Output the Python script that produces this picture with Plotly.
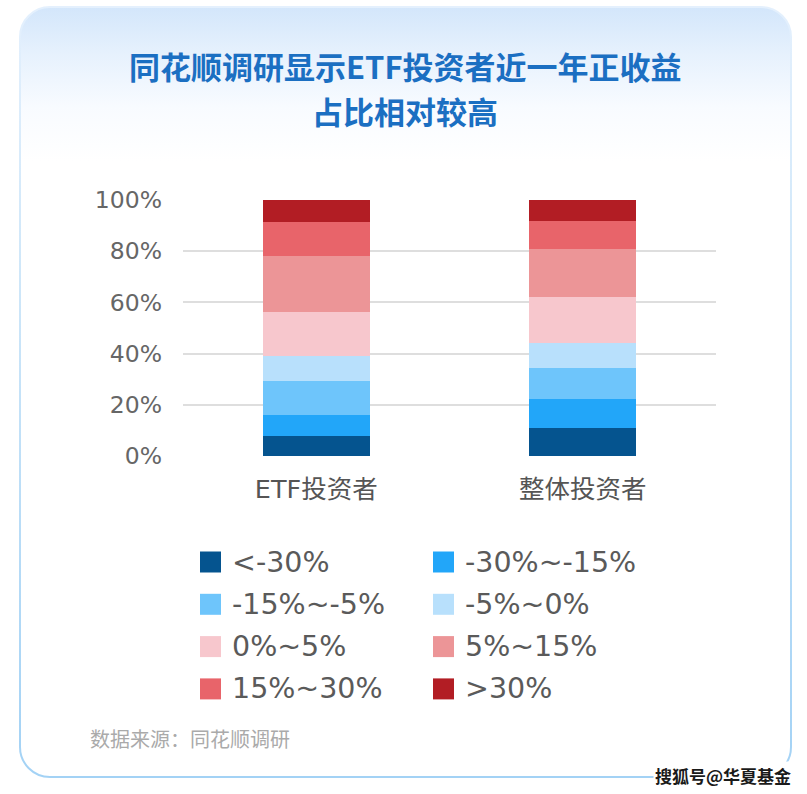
import base64
import plotly.graph_objects as go

# ---------------- data ----------------
CATEGORIES = ["ETF投资者", "整体投资者"]
SERIES = ["<-30%", "-30%~-15%", "-15%~-5%", "-5%~0%", "0%~5%", "5%~15%", "15%~30%", ">30%"]
ETF_SHARE = [8.0, 8.2, 13.1, 9.7, 17.4, 21.8, 13.0, 8.8]
ALL_SHARE = [11.0, 11.2, 12.3, 9.6, 17.9, 18.7, 10.9, 8.4]
COLORS = ["#05548F", "#22A6F9", "#6EC5FB", "#B8E0FC", "#F7C7CD", "#EC9597", "#E8646A", "#B21D24"]
Y_TICKS = [0, 20, 40, 60, 80, 100]
TITLE_LINES = ["同花顺调研显示ETF投资者近一年正收益", "占比相对较高"]
SOURCE = "数据来源：同花顺调研"
WATERMARK = "搜狐号@华夏基金"

# ---------------- geometry ----------------
W, H = 807, 794
L, R, T, B = 183, 91, 199, 337
PW, PH = W - L - R, H - T - B


def px_x(px):
    return (px - L) / PW


def px_y(py):
    return (H - B - py) / PH


CJK = "Noto Sans CJK SC"
LAT = "DejaVu Sans, Noto Sans CJK SC"

fig = go.Figure()
for name, color, a, b in zip(SERIES, COLORS, ETF_SHARE, ALL_SHARE):
    fig.add_trace(go.Bar(
        x=CATEGORIES, y=[a, b], name=name,
        marker=dict(color=color, line=dict(width=0)),
        showlegend=False,
    ))

# card background as an svg image
svg = f'''<svg xmlns="http://www.w3.org/2000/svg" width="{W}" height="{H}" viewBox="0 0 {W} {H}">
<defs>
<linearGradient id="f" x1="0" y1="7" x2="0" y2="777" gradientUnits="userSpaceOnUse">
<stop offset="0" stop-color="#d3e6fb"/>
<stop offset="0.06" stop-color="#e6f1fd"/>
<stop offset="0.13" stop-color="#f8fbff"/>
<stop offset="0.2" stop-color="#ffffff"/>
<stop offset="1" stop-color="#ffffff"/>
</linearGradient>
<linearGradient id="s" x1="0" y1="7" x2="0" y2="777" gradientUnits="userSpaceOnUse">
<stop offset="0" stop-color="#e4f0fd"/>
<stop offset="0.35" stop-color="#cfe7f9"/>
<stop offset="1" stop-color="#a3d2f5"/>
</linearGradient>
</defs>
<rect x="20" y="7" width="771" height="770" rx="30" ry="30" fill="url(#f)" stroke="url(#s)" stroke-width="2"/>
</svg>'''
src = "data:image/svg+xml;base64," + base64.b64encode(svg.encode("utf-8")).decode("ascii")
fig.add_layout_image(dict(
    source=src, xref="paper", yref="paper",
    x=px_x(0), y=px_y(0), sizex=W / PW, sizey=H / PH,
    xanchor="left", yanchor="top", sizing="stretch", layer="below",
))

shapes = []
annotations = []

# title, one annotation per line
for line, cy in zip(TITLE_LINES, [65, 110]):
    annotations.append(dict(
        text="<b>" + line + "</b>", xref="paper", yref="paper",
        x=px_x(405), y=px_y(cy), xanchor="center", yanchor="middle", showarrow=False,
        borderpad=0,
        font=dict(family=CJK, size=31, color="#1b6fc2"),
    ))

# manual legend built from the series list
for i, (name, color) in enumerate(zip(SERIES, COLORS)):
    col, row = i % 2, i // 2
    sx = 200 + col * 233
    cy = 562 + row * 42.3
    shapes.append(dict(
        type="rect", xref="paper", yref="paper",
        x0=px_x(sx), x1=px_x(sx + 21), y0=px_y(cy - 10.5), y1=px_y(cy + 10.5),
        fillcolor=color, line=dict(width=0),
    ))
    annotations.append(dict(
        text=name.replace("<", "&lt;").replace(">", "&gt;"),
        xref="paper", yref="paper", x=px_x(sx + 30), y=px_y(cy),
        xanchor="left", yanchor="middle", showarrow=False,
        font=dict(family=LAT, size=28.5, color="#5a5a5a"),
    ))

annotations.append(dict(
    text=SOURCE, xref="paper", yref="paper", x=px_x(88), y=px_y(738),
    xanchor="left", yanchor="middle", showarrow=False,
    font=dict(family=CJK, size=20, color="#aaaaaa"),
))
annotations.append(dict(
    text="<b>" + WATERMARK + "</b>", xref="paper", yref="paper", x=px_x(793), y=px_y(775),
    xanchor="right", yanchor="middle", showarrow=False, bgcolor="#ffffff",
    font=dict(family=CJK, size=17, color="#1a1a1a"),
))

fig.update_layout(
    width=W, height=H,
    margin=dict(l=L, r=R, t=T, b=B, pad=0),
    paper_bgcolor="#ffffff", plot_bgcolor="rgba(0,0,0,0)",
    barmode="stack", bargap=0.6,
    xaxis=dict(
        showgrid=False, showline=False, ticks="", zeroline=False,
        tickfont=dict(family=LAT, size=25.5, color="#555555"),
        ticklabelstandoff=14, fixedrange=True,
    ),
    yaxis=dict(
        range=[-0.3, 100.3], tickvals=Y_TICKS, ticktext=[f"{v}%" for v in Y_TICKS],
        showgrid=True, gridcolor="#dedede", gridwidth=2,
        zeroline=False, showline=False, ticks="",
        tickfont=dict(family=LAT, size=23.5, color="#666666"),
        ticklabelstandoff=20, fixedrange=True,
    ),
    shapes=shapes, annotations=annotations,
    showlegend=False,
)

fig.write_html("out.html")
